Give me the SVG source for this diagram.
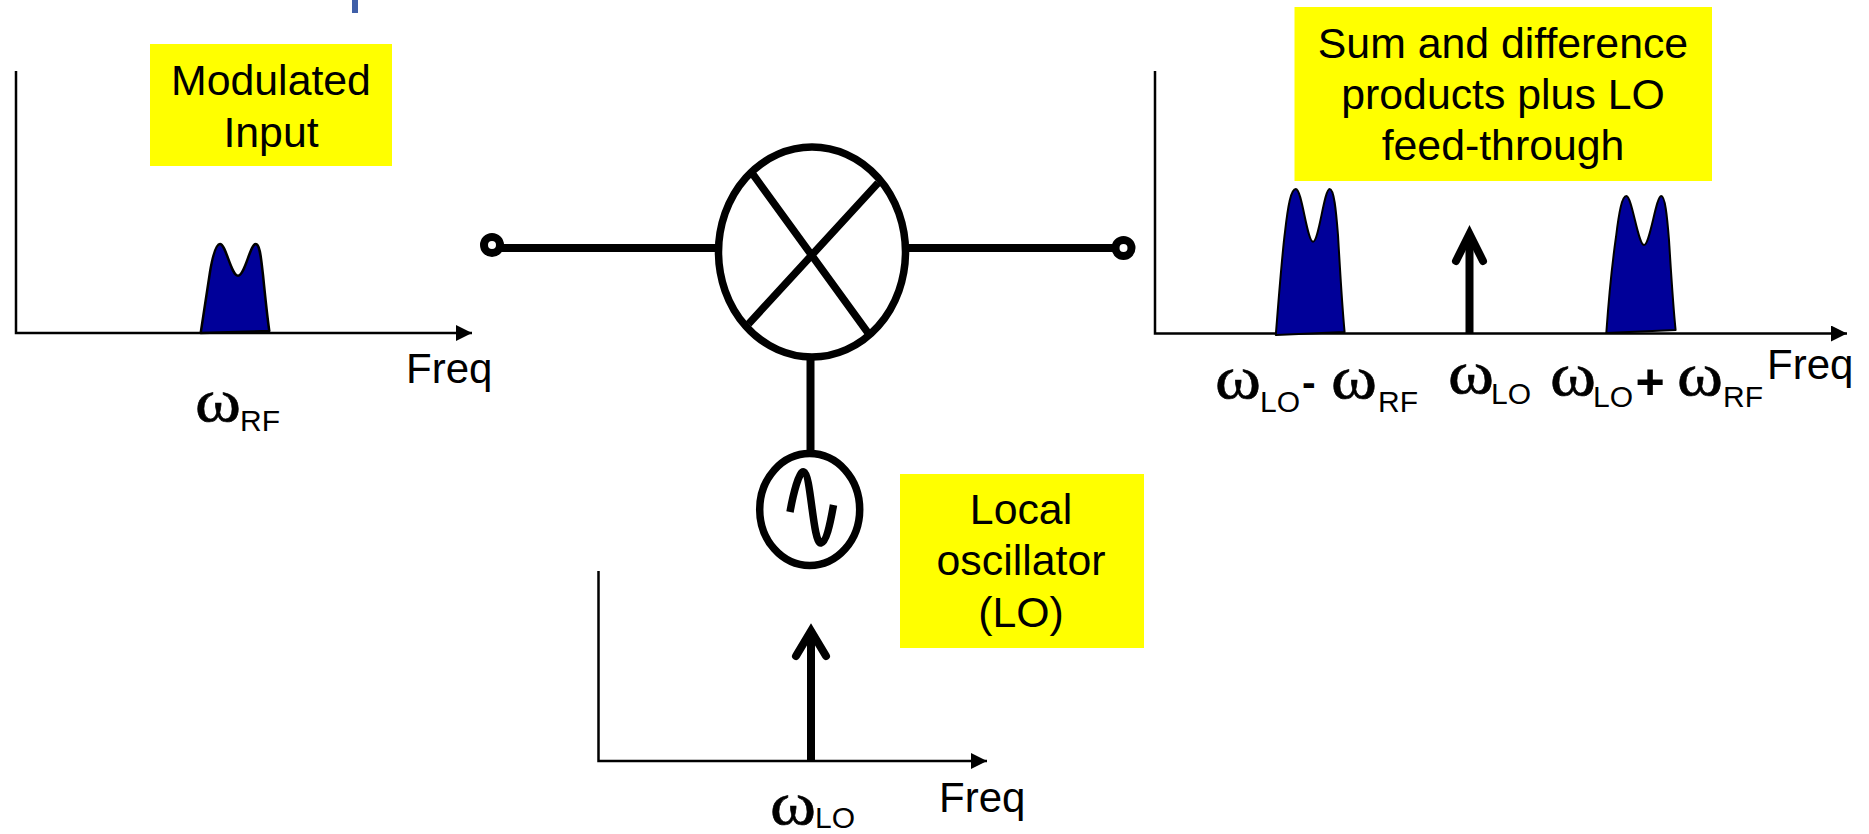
<svg xmlns="http://www.w3.org/2000/svg" width="1869" height="834" viewBox="0 0 1869 834">
<style>
text{font-family:"Liberation Sans",Arial,sans-serif;font-size:42.8px;fill:#000}
.f{font-size:42px}
.c{text-anchor:middle}
.w{font-family:"Liberation Serif","DejaVu Serif",serif;font-size:62px;stroke:#000;stroke-width:.6}
.s{font-size:30px}
.b{font-weight:bold}
.box{fill:#ffff00}
.ax{fill:none;stroke:#000;stroke-width:2.5}
.hump{fill:#000099;stroke:#000;stroke-width:2.5;stroke-linejoin:round}
.heavy{fill:none;stroke:#000;stroke-width:8}
.sym{fill:none;stroke:#000;stroke-width:7.5}
.term{fill:none;stroke:#000;stroke-width:8}
.tip{fill:none;stroke:#000;stroke-width:8;stroke-linecap:round;stroke-linejoin:miter}
</style>
<defs>
<marker id="ah" markerUnits="userSpaceOnUse" markerWidth="18" markerHeight="18" refX="16" refY="8" orient="auto"><path d="M0 0L16 8L0 16Z" fill="#000"/></marker>
</defs>
<rect x="352" y="0" width="6" height="13" fill="#3f5fa8"/>
<g id="connectors">
<path class="ax" d="M16 71V333H472" marker-end="url(#ah)"/>
<path class="ax" d="M598.5 571V761H987" marker-end="url(#ah)"/>
<path class="ax" d="M1155 71V333.5H1847" marker-end="url(#ah)"/>
<path class="heavy" d="M500 248H716"/>
<path class="heavy" d="M908 248H1114"/>
<path class="heavy" d="M810.5 360V450"/>
<path class="heavy" d="M811 761V632"/>
<path class="tip" d="M796 656L811 631L826 656"/>
<path class="heavy" d="M1469.5 333V235"/>
<path class="tip" d="M1456 261L1469.5 234L1483 261"/>
</g>
<g id="input-label"><rect class="box" x="150" y="44" width="242" height="122"/>
<text class="c" x="271" y="95">Modulated</text><text class="c" x="271" y="147">Input</text></g>
<g id="output-label"><rect class="box" x="1294.5" y="7" width="417.5" height="174"/>
<text class="c" x="1503" y="58">Sum and difference</text><text class="c" x="1503" y="109">products plus LO</text><text class="c" x="1503" y="160">feed-through</text></g>
<g id="lo-label"><rect class="box" x="900" y="474" width="244" height="174"/>
<text class="c" x="1021" y="524">Local</text><text class="c" x="1021" y="575">oscillator</text><text class="c" x="1021" y="627">(LO)</text></g>
<g id="input-terminal"><circle class="term" cx="492" cy="245" r="8"/></g>
<g id="output-terminal"><circle class="term" cx="1123.5" cy="248" r="8"/></g>
<g id="mixer"><ellipse class="sym" cx="812" cy="252" rx="93.5" ry="105"/>
<path class="sym" d="M752 173L871 337M878 183L748.5 324"/></g>
<g id="oscillator"><ellipse class="sym" cx="809.7" cy="509.5" rx="50" ry="56"/>
<path class="sym" d="M790 512C793 495 799 470 804 472C811 474 813 545 821 543C826 542 830 525 833.5 505"/></g>
<g id="input-spectrum">
<path class="hump" d="M200.7 333C205 305 208 285 210 272C213 254 216 244 220 244C226 244 231 275.7 238 275.7C245 275.7 250 244 255.7 244C260 244 261 258 263 275C265 295 267 315 269.3 331Z"/>
<text class="f" x="406" y="383">Freq</text>
<text class="w" x="195" y="421" textLength="46" lengthAdjust="spacingAndGlyphs">ω</text><text class="s" x="240" y="431">RF</text></g>
<g id="lo-spectrum">
<text class="f" x="939" y="812">Freq</text>
<text class="w" x="770" y="824" textLength="46" lengthAdjust="spacingAndGlyphs">ω</text><text class="s" x="815" y="828">LO</text></g>
<g id="output-spectrum">
<path class="hump" style="stroke-width:2" d="M1275.8 335C1279 295 1282 255 1285 232C1288 205 1291 189 1295.8 189C1302 189 1307 241.7 1313 241.7C1319 241.7 1324 189 1329.7 189C1334 189 1336 210 1338 235C1340 270 1342 305 1344.6 332Z"/>
<path class="hump" style="stroke-width:2" d="M1606.3 333C1609 295 1613 258 1616 237C1619 212 1622 196 1626.3 196C1632 196 1638 245 1644 245C1650 245 1656 196 1661.2 196C1665 196 1667 215 1669 240C1671 272 1673 305 1675.6 330Z"/>
<text class="w" x="1215" y="398" textLength="46" lengthAdjust="spacingAndGlyphs">ω</text><text class="s" x="1260" y="412">LO</text><text class="b" x="1302" y="396" style="font-size:41px">-</text>
<text class="w" x="1331" y="398" textLength="46" lengthAdjust="spacingAndGlyphs">ω</text><text class="s" x="1378" y="412">RF</text>
<text class="w" x="1448" y="393" textLength="46" lengthAdjust="spacingAndGlyphs">ω</text><text class="s" x="1491" y="404">LO</text>
<text class="w" x="1550" y="395" textLength="46" lengthAdjust="spacingAndGlyphs">ω</text><text class="s" x="1593" y="407">LO</text><text class="b" x="1635.5" y="399" style="font-size:50px">+</text>
<text class="w" x="1677" y="395" textLength="46" lengthAdjust="spacingAndGlyphs">ω</text><text class="s" x="1723" y="407">RF</text>
<text class="f" x="1767" y="379">Freq</text></g>
</svg>
